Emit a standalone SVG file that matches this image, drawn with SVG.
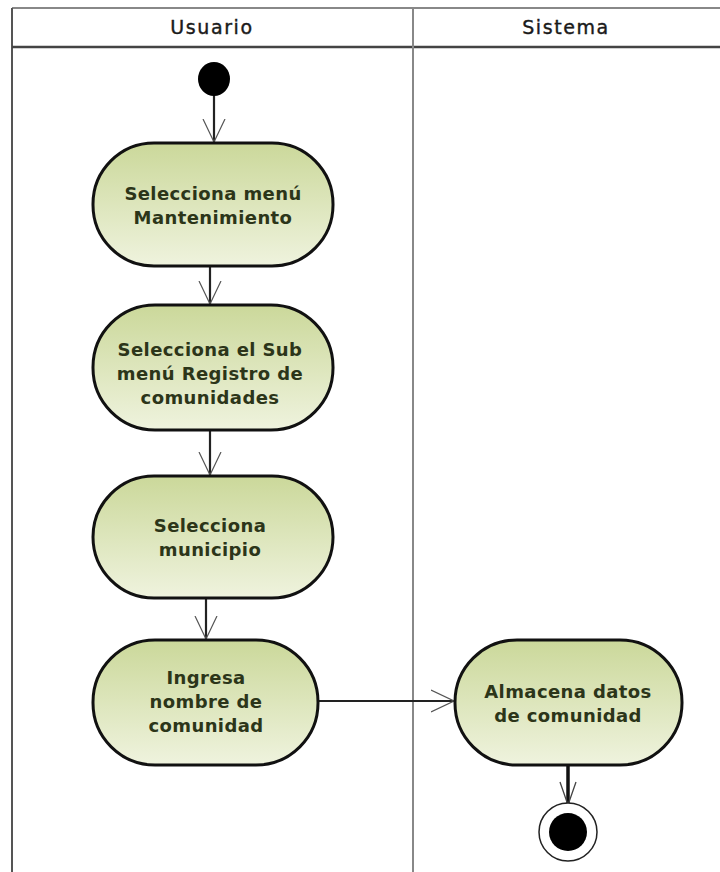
<svg xmlns="http://www.w3.org/2000/svg" width="720" height="872" viewBox="0 0 720 872">
<defs>
<linearGradient id="g" x1="0" y1="0" x2="0" y2="1">
<stop offset="0" stop-color="#cbd89a"/>
<stop offset="1" stop-color="#eff3de"/>
</linearGradient>
<marker id="open" viewBox="0 0 24 24" refX="23" refY="12" markerWidth="24" markerHeight="24" markerUnits="userSpaceOnUse" orient="auto">
<path d="M0,1 L23,12 L0,23" fill="none" stroke="#555" stroke-width="1.2"/>
</marker>
</defs>
<style>
.lane{fill:none;stroke:#555;stroke-width:2}
.div{stroke:#888;stroke-width:2}
.hdr{font-family:"DejaVu Sans",sans-serif;font-size:19px;fill:#1a1a1a;stroke:#1a1a1a;stroke-width:0.4;text-anchor:middle;letter-spacing:1.6px}
.act{fill:url(#g);stroke:#111;stroke-width:3}
.t{font-family:"DejaVu Sans",sans-serif;font-weight:bold;font-size:18px;fill:#2c3519;text-anchor:middle;letter-spacing:0.4px}
.c{fill:none;stroke:#222;stroke-width:2.2;marker-end:url(#open)}
</style>
<rect width="720" height="872" fill="#fff"/>
<g id="swimlanes">
<line x1="12" y1="8" x2="720" y2="8" stroke="#888" stroke-width="2"/>
<line x1="12" y1="8" x2="12" y2="872" class="lane"/>
<line x1="12" y1="47" x2="720" y2="47" stroke="#444" stroke-width="2.5"/>
<line x1="413" y1="8" x2="413" y2="872" class="div"/>
<text x="212" y="34" class="hdr">Usuario</text>
<text x="566" y="34" class="hdr">Sistema</text>
</g>
<g id="connectors">
<path class="c" d="M214,95 L214,142"/>
<path class="c" d="M210,266 L210,304"/>
<path class="c" d="M210,430 L210,475"/>
<path class="c" d="M206,598 L206,639"/>
<path class="c" d="M318,701 L454,701"/>
<path d="M568,765 L568,804" fill="none" stroke="#111" stroke-width="3.5"/>
<path d="M560,782 L568,805 L576,782" fill="none" stroke="#444" stroke-width="1.3"/>
</g>
<g id="start"><ellipse cx="214" cy="79" rx="16" ry="17" fill="#000"/></g>
<g id="n1">
<rect x="93" y="143" width="240" height="123" rx="61" ry="61" class="act"/>
<text x="213" y="200" class="t">Selecciona menú</text>
<text x="213" y="224" class="t">Mantenimiento</text>
</g>
<g id="n2">
<rect x="93" y="305" width="240" height="125" rx="62" ry="62" class="act"/>
<text x="210" y="356" class="t">Selecciona el Sub</text>
<text x="210" y="380" class="t">menú Registro de</text>
<text x="210" y="404" class="t">comunidades</text>
</g>
<g id="n3">
<rect x="93" y="476" width="240" height="122" rx="61" ry="61" class="act"/>
<text x="210" y="532" class="t">Selecciona</text>
<text x="210" y="556" class="t">municipio</text>
</g>
<g id="n4">
<rect x="93" y="640" width="225" height="125" rx="62" ry="62" class="act"/>
<text x="206" y="684" class="t">Ingresa</text>
<text x="206" y="708" class="t">nombre de</text>
<text x="206" y="732" class="t">comunidad</text>
</g>
<g id="n5">
<rect x="455" y="640" width="227" height="125" rx="62" ry="62" class="act"/>
<text x="568" y="698" class="t">Almacena datos</text>
<text x="568" y="722" class="t">de comunidad</text>
</g>
<g id="end">
<ellipse cx="568" cy="832" rx="29" ry="29" fill="#fff" stroke="#222" stroke-width="1.5"/>
<ellipse cx="568" cy="832" rx="19" ry="19" fill="#000"/>
</g>
</svg>
